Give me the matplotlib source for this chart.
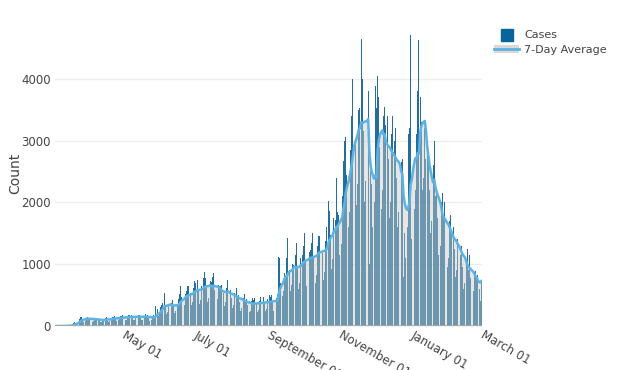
import matplotlib
matplotlib.use("Agg")
import matplotlib.pyplot as plt
from matplotlib.lines import Line2D
from matplotlib.patches import Patch
from matplotlib.legend_handler import HandlerTuple
import pandas as pd

start_date = "2020-03-05"
# daily reported cases, one row per week (Thu..Wed)
daily_cases = [
    0, 0, 0, 1, 0, 2, 4,
    2, 3, 4, 3, 5, 8, 12,
    30, 45, 60, 40, 55, 75, 110,
    140, 150, 120, 70, 85, 135, 140,
    125, 135, 110, 70, 80, 120, 130,
    110, 115, 90, 60, 70, 105, 120,
    130, 140, 110, 70, 80, 125, 150,
    150, 160, 125, 80, 90, 140, 165,
    165, 175, 140, 90, 100, 160, 185,
    175, 180, 140, 90, 105, 165, 190,
    170, 185, 145, 90, 105, 165, 190,
    165, 170, 140, 85, 100, 150, 170,
    150, 330, 280, 160, 200, 300, 340,
    380, 540, 320, 200, 230, 360, 400,
    380, 420, 330, 210, 240, 350, 440,
    520, 640, 470, 300, 340, 520, 560,
    640, 650, 540, 340, 390, 620, 720,
    690, 740, 570, 360, 420, 650, 780,
    880, 780, 620, 390, 450, 720, 710,
    800, 850, 590, 370, 430, 660, 640,
    640, 670, 530, 330, 390, 610, 750,
    550, 580, 460, 290, 340, 530, 610,
    470, 500, 390, 250, 290, 460, 510,
    410, 440, 340, 220, 250, 400, 460,
    420, 460, 350, 220, 260, 410, 470,
    450, 470, 370, 240, 270, 430, 500,
    470, 500, 390, 250, 290, 460, 510,
    1120, 1100, 700, 480, 560, 860, 780,
    1100, 1430, 900, 570, 660, 1000, 990,
    1150, 1350, 950, 600, 700, 1100, 1150,
    1300, 1500, 1050, 650, 770, 1200, 1230,
    1350, 1510, 1120, 700, 830, 1300, 1450,
    1450, 1520, 1180, 750, 870, 1380, 1600,
    2020, 1860, 1480, 930, 1090, 1750, 1720,
    2400, 1850, 1800, 1150, 1330, 2100, 2670,
    3000, 3050, 2450, 1600, 1850, 2850, 3400,
    4000, 4120, 3000, 1950, 2300, 3500, 3530,
    4650, 4000, 3150, 2000, 2350, 3500, 3800,
    1000, 2500, 2300, 1600, 2000, 3880, 3520,
    4050, 3700, 2900, 1900, 2200, 3400, 3550,
    3250, 3400, 2700, 1750, 2000, 3100, 3400,
    3000, 3200, 2400, 1600, 1850, 2800, 2650,
    2700, 800, 1500, 1100, 1600, 3100, 3200,
    4700, 1400, 2500, 1900, 2200, 3100, 3800,
    4620, 3700, 3300, 2200, 2400, 3200, 2700,
    2900, 2650, 2200, 1500, 1700, 2600, 3000,
    2100, 2150, 1750, 1150, 1300, 2000, 2150,
    1800, 2000, 1500, 950, 1100, 1700, 1800,
    1500, 1600, 1250, 800, 900, 1400, 1650,
    1150, 1300, 950, 600, 700, 1050, 1250,
    900, 1150, 780, 470, 560, 850, 890,
    800, 830, 600, 400, 730,
]

tick_dates = ["2020-05-01", "2020-07-01", "2020-09-01", "2020-11-01", "2021-01-01", "2021-03-01"]
tick_labels = ["May 01", "July 01", "September 01", "November 01", "January 01", "March 01"]
y_ticks = [0, 1000, 2000, 3000, 4000]

dates = pd.date_range(start_date, periods=len(daily_cases), freq="D")
cases = pd.Series(daily_cases, index=dates, dtype=float)
avg7 = cases.rolling(7, min_periods=1).mean()

plt.rcParams["font.family"] = ["DejaVu Sans"]
fig = plt.figure(figsize=(6.2, 3.7), dpi=100)
ax = fig.add_axes([55/620, 1 - 326/370, (482 - 55)/620, (326 - 20)/370])

ax.bar(dates, cases.values, width=0.8, color="#0b5e91", alpha=0.9, linewidth=0, zorder=2)
ax.fill_between(dates, 0, avg7.values, color="#c8c8c8", alpha=0.45, linewidth=0, zorder=3)
ax.plot(dates, avg7.values, color="#5cb3e3", linewidth=1.8, zorder=4)

ax.set_xlim(pd.Timestamp("2020-03-04 12:00"), pd.Timestamp("2021-03-01 12:00"))
ax.set_ylim(0, 4950)
ax.set_yticks(y_ticks)
ax.set_yticklabels([str(v) for v in y_ticks])
ax.set_xticks([pd.Timestamp(d) for d in tick_dates])
ax.set_xticklabels(tick_labels, rotation=-30, ha="left", va="center", rotation_mode="anchor")
ax.tick_params(axis="both", length=0, labelsize=8.5, labelcolor="#444444")
ax.tick_params(axis="x", pad=6)
ax.tick_params(axis="y", pad=3)
for s in ax.spines.values():
    s.set_visible(False)
ax.grid(axis="y", color="#eeeeee", linewidth=1, zorder=0)
ax.set_axisbelow(True)
ax.axhline(0, color="#aaaaaa", linewidth=1.2, zorder=5)
ax.set_ylabel("Count", fontsize=10, color="#444444")
ax.yaxis.set_label_coords(-0.077, 0.5)

h_cases = Line2D([], [], marker="s", linestyle="none", markersize=8, color="#0a649c")
h_avg = (Patch(facecolor="#d9d9d9", edgecolor="none"), Line2D([], [], color="#5cb3e3", linewidth=2))
fig.legend([h_cases, h_avg], ["Cases", "7-Day Average"],
           handler_map={tuple: HandlerTuple(ndivide=1, pad=0)},
           loc="upper left", bbox_to_anchor=(490/620, 1 - 26/370), frameon=False,
           fontsize=8, labelcolor="#444444", handlelength=2.2, handletextpad=0.5,
           labelspacing=0.4, borderaxespad=0)

fig.savefig("out.png", dpi=100)
